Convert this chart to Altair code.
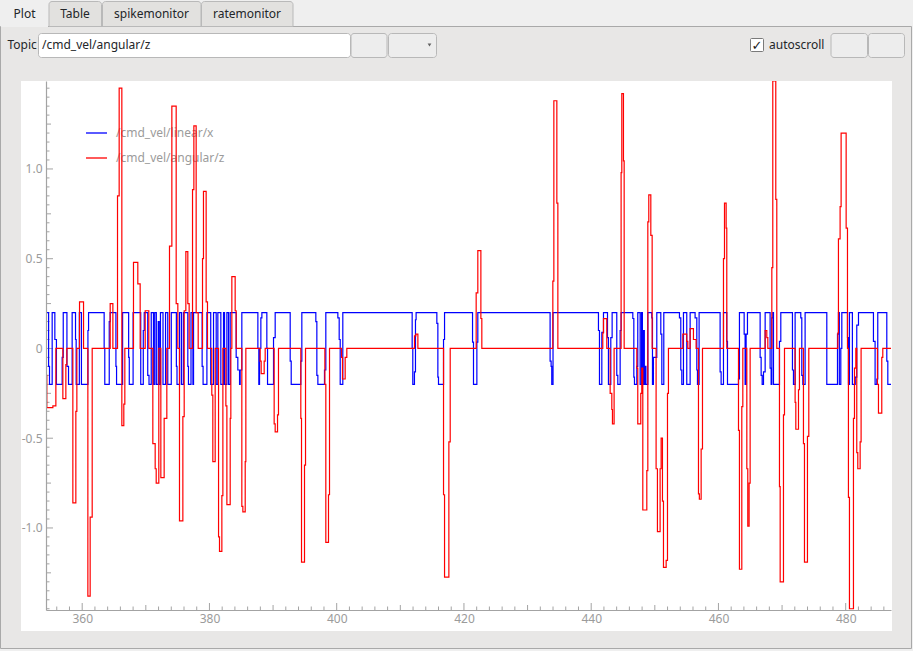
import altair as alt
import pandas as pd

# ---------------- data ----------------
red_t = [354.31, 354.44, 355.39, 355.86, 356.96, 357.43, 357.59, 358.53, 359.0, 359.16,
         359.58, 360.21, 360.89, 361.25, 361.57, 364.4, 364.82, 365.55, 365.81, 366.23,
         366.54, 366.7, 368.06, 368.74, 369.11, 369.9, 370.47, 371.1, 371.47, 371.63,
         372.04, 372.36, 372.88, 373.3, 373.72, 374.09, 374.77, 375.03, 375.29, 375.82,
         376.03, 376.29, 376.6, 376.81, 377.34, 377.55, 377.91, 378.23, 378.91, 379.06,
         379.48, 379.69, 380.37, 380.53, 380.9, 381.43, 381.58, 381.95, 382.11, 382.58,
         382.74, 383.26, 383.36, 383.52, 384.04, 384.2, 385.09, 385.25, 385.62, 385.72,
         387.97, 388.13, 388.6, 388.76, 390.17, 390.33, 390.7, 390.85, 394.36, 394.47,
         394.94, 395.1, 398.14, 398.29, 398.71, 398.87, 400.76, 400.91, 401.33, 401.59,
         412.23, 412.44, 412.76, 416.79, 416.95, 417.63, 417.84, 421.92, 422.18, 422.66,
         422.81, 433.97, 434.13, 434.6, 434.76, 441.82, 441.93, 442.45, 442.98, 443.24,
         443.34, 443.6, 444.7, 444.81, 445.07, 445.18, 447.17, 447.32, 447.79, 447.95,
         448.11, 448.74, 448.9, 449.05, 449.37, 449.58, 450.2, 450.41, 450.83, 450.99,
         451.2, 451.36, 451.78, 451.99, 452.14, 454.4, 455.02, 455.18, 455.55, 456.07,
         456.49, 456.86, 457.0, 457.28, 457.49, 460.79, 460.95, 461.21, 461.31, 463.15,
         463.3, 463.67, 463.83, 464.46, 464.61, 464.82, 464.98, 467.34, 467.6, 467.76,
         468.39, 468.54, 469.01, 469.17, 469.59, 469.7, 470.22, 470.38, 472.05, 472.16,
         472.58, 472.73, 473.36, 473.52, 473.99, 474.2, 478.76, 478.86, 479.12, 479.28,
         480.07, 480.28, 480.43, 480.59, 481.22, 481.38, 481.59, 481.74, 481.9, 482.27,
         482.42, 484.99, 485.15, 485.67, 485.83, 487.12]
red_v = [-0.15, -0.33, -0.32, 0, -0.28, -0.09, 0, -0.86, -0.35, 0,
         0.26, 0, -1.38, -0.94, 0, 0.25, 0, 0.85, 1.45, -0.43,
         -0.31, 0, 0.48, 0.36, 0, 0.21, 0, -0.53, -0.67, -0.75,
         0, -0.72, -0.39, 0, 0.57, 1.35, 0.25, 0, -0.96, -0.38,
         0.21, 0.54, 0.25, 0, 0.885, 1.24, 0.2, 0, 0.5, 0.875,
         0.26, 0, -0.26, -0.63, 0, -1.05, -1.13, -0.82, 0, -0.32,
         -0.87, -0.39, 0, 0.4, 0.21, 0, -0.88, -0.91, -0.63, 0,
         -0.07, -0.14, -0.07, 0, -0.42, -0.465, -0.37, 0, -0.39, -1.19,
         -0.65, 0, -0.2, -1.08, -0.815, 0, -0.05, -0.17, -0.05, 0,
         0.07, 0.08, 0, -0.815, -1.274, -0.52, 0, 0.31, 0.545, 0.167,
         0, 0.375, 1.38, 0.81, 0, 0.086, 0.166, 0, -0.25, -0.34,
         -0.42, 0, 0.98, 1.42, 1.045, 0, -0.11, -0.42, -0.25, -0.11,
         -0.9, -0.68, 0.705, 0.856, 0.63, 0, -0.67, -1.02, -0.67, -0.5,
         -0.85, -1.22, -1.18, -0.25, 0, 0.08, 0.04, 0, 0.11, 0.05,
         0, -0.81, -0.84, -0.56, 0, 0.5, 0.81, 0.67, 0, -0.456,
         -1.23, -0.324, 0, -0.67, -0.99, -0.75, 0, 0.1, 0.06, 0,
         0.45, 1.49, 0.83, 0, -0.77, -1.3, -0.37, 0, -0.3, -0.45,
         -0.23, 0, -0.53, -1.19, -0.49, 0, 0.086, 0.61, 0.79, 1.2,
         0.67, 0, -0.83, -1.45, -0.39, -0.11, 0, -0.58, -0.67, -0.52,
         0, -0.2, -0.36, -0.05, 0, 0]

blue_t = [354.31, 354.72, 354.86, 355.28, 355.7, 355.95, 356.85, 357.02, 357.6, 357.85,
          358.42, 358.95, 359.05, 359.55, 359.88, 360.9, 361.0, 363.45, 363.55, 364.25,
          364.4, 365.3, 365.4, 366.35, 367.3, 367.4, 368.0, 369.2, 369.6, 369.75,
          370.3, 370.5, 370.85, 371.2, 371.4, 371.65, 371.95, 372.1, 372.3, 372.7,
          373.1, 373.45, 374.0, 374.8, 374.9, 375.3, 375.6, 375.9, 376.6, 376.7,
          377.1, 377.4, 377.5, 378.85, 379.0, 379.6, 380.2, 380.64, 381.06, 381.32,
          381.79, 382.21, 382.37, 382.74, 383.0, 383.26, 384.2, 384.46, 384.73, 384.83,
          385.09, 387.61, 387.76, 387.87, 388.08, 388.24, 389.02, 389.13, 390.07, 390.33,
          392.69, 392.85, 394.36, 394.52, 396.72, 396.88, 397.04, 398.08, 398.29, 400.18,
          400.39, 400.55, 400.96, 411.86, 411.96, 412.22, 412.38, 412.48, 415.74, 415.9,
          416.0, 416.79, 416.95, 421.35, 421.5, 422.03, 422.18, 433.54, 433.7, 433.8,
          434.0, 441.14, 441.3, 441.67, 441.93, 442.56, 442.71, 443.08, 443.29, 444.02,
          444.18, 444.55, 444.7, 446.54, 446.7, 446.8, 447.17, 447.32, 447.69, 447.9,
          448.05, 448.2, 448.35, 448.5, 448.6, 448.9, 449.52, 449.63, 449.78, 450.31,
          450.94, 451.1, 451.41, 453.87, 454.08, 454.24, 454.5, 455.02, 455.55, 456.33,
          456.6, 456.7, 456.96, 460.26, 460.42, 460.79, 461.31, 461.42, 463.15, 463.3,
          464.04, 464.19, 464.35, 464.56, 466.55, 466.71, 466.87, 467.08, 467.34, 468.12,
          468.28, 468.39, 468.54, 468.65, 469.59, 469.8, 471.63, 471.79, 472.05, 472.94,
          473.1, 473.26, 473.62, 477.03, 478.71, 478.86, 479.0, 479.23, 479.39, 480.28,
          480.43, 480.59, 481.05, 481.5, 481.74, 482.01, 484.36, 484.62, 484.89, 485.04,
          486.46, 486.62, 487.12]
blue_v = [0.2, -0.1, -0.2, 0.2, 0.05, -0.2, -0.05, 0.2, -0.1, -0.2,
          0.2, 0.05, -0.2, 0.2, -0.2, 0.1, 0.2, 0.0, -0.2, 0.15,
          0.2, -0.1, -0.2, 0.2, -0.05, -0.2, 0.2, -0.2, 0.1, 0.2,
          -0.15, -0.2, 0.2, -0.2, 0.2, -0.2, 0.15, -0.2, 0.2, -0.2,
          0.2, -0.2, 0.2, -0.1, -0.2, 0.2, -0.2, 0.2, -0.1, -0.2,
          0.2, -0.2, 0.2, -0.1, -0.2, 0.2, -0.2, 0.2, -0.2, 0.2,
          -0.2, 0.2, -0.2, 0.2, -0.2, 0.2, -0.05, -0.12, -0.2, -0.12,
          0.2, 0.0, -0.2, 0.0, 0.17, 0.2, 0.0, -0.2, 0.06, 0.2,
          -0.07, -0.2, -0.07, 0.2, 0.15, -0.15, -0.2, -0.12, 0.2, 0.17,
          0.05, -0.2, 0.2, 0.0, -0.2, -0.13, 0.16, 0.2, 0.14, -0.16,
          -0.2, 0.05, 0.2, 0.035, -0.2, 0.035, 0.2, -0.07, -0.1, -0.2,
          0.2, 0.1, -0.2, 0.09, 0.2, 0.06, -0.2, 0.06, 0.2, -0.15,
          -0.2, 0.1, 0.2, 0.167, -0.16, -0.2, -0.1, 0.2, -0.2, 0.2,
          -0.2, 0.1, -0.2, -0.1, -0.2, 0.2, 0.17, -0.2, -0.05, 0.2,
          0.08, -0.2, 0.2, 0.17, -0.12, -0.2, 0.2, -0.2, 0.2, 0.17,
          -0.12, -0.2, 0.2, -0.13, -0.2, 0.2, 0.04, -0.2, -0.17, 0.2,
          0.08, -0.2, 0.08, 0.2, -0.05, -0.15, -0.2, -0.13, 0.2, -0.11,
          -0.2, 0.17, 0.2, -0.2, 0.04, 0.2, -0.12, -0.2, 0.2, 0.17,
          -0.15, -0.2, 0.2, -0.2, 0.08, 0.2, -0.2, 0.0, 0.2, 0.06,
          -0.2, 0.2, -0.2, -0.16, 0.13, 0.2, 0.04, -0.2, -0.17, 0.2,
          -0.07, -0.2, -0.2]

series_names = ["/cmd_vel/linear/x", "/cmd_vel/angular/z"]
series_colors = ["#0000ff", "#ff0000"]

x_major = [360, 380, 400, 420, 440, 460, 480]
x_medium = [370, 390, 410, 430, 450, 470]
x_minor = [v for v in range(356, 488, 2) if v % 10 != 0]
y_major = [-1.0, -0.5, 0.0, 0.5, 1.0]
y_medium = [-1.25, -0.75, -0.25, 0.25, 0.75, 1.25]
y_minor = [k / 20 for k in range(-29, 30) if k % 5 != 0]

tab_names = ["Plot", "Table", "spikemonitor", "ratemonitor"]
topic_label = "Topic"
topic_text = "/cmd_vel/angular/z"
autoscroll_label = "autoscroll"

# ---------------- layout ----------------
OX, OY = 46, 81          # plot-area origin inside the 913x651 page
W, H = 845, 529          # plot-area size
FONT = "Noto Sans"
GREY = "#9b9b9b"
AXC = "#a3a3a3"

one = pd.DataFrame({"k": [0]})


def box(x1, y1, x2, y2, fill, stroke=None, r=0, top_only=False):
    kw = dict(fill=fill)
    if stroke:
        kw.update(stroke=stroke, strokeWidth=1)
    if r and top_only:
        kw.update(cornerRadiusTopLeft=r, cornerRadiusTopRight=r)
    elif r:
        kw.update(cornerRadius=r)
    return alt.Chart(one).mark_rect(**kw).encode(
        x=alt.value(x1 - OX), x2=alt.value(x2 - OX),
        y=alt.value(y1 - OY), y2=alt.value(y2 - OY))


def label(x, y, s, color="#232629", align="left", size=12, font=FONT, weight="normal"):
    return alt.Chart(one).mark_text(
        align=align, baseline="middle", fontSize=size, font=font, color=color, fontWeight=weight
    ).encode(x=alt.value(x - OX), y=alt.value(y - OY), text=alt.value(s))


chrome = [
    box(0.5, 26.5, 911.5, 648.5, "#e8e7e6", "#a9a9a9"),
    box(1, 0, 48, 27, "#efefef"),
    box(49, 1.5, 101.5, 26.5, "#e2e1df", "#b9b9b9", 3, True),
    box(102.5, 1.5, 201, 26.5, "#e2e1df", "#b9b9b9", 3, True),
    box(201.5, 1.5, 293, 26.5, "#e2e1df", "#b9b9b9", 3, True),
    label(24.5, 14, tab_names[0], align="center"),
    label(75, 14, tab_names[1], align="center"),
    label(151.5, 14, tab_names[2], align="center"),
    label(247, 14, tab_names[3], align="center"),
    label(7.5, 45, topic_label),
    box(38.5, 33.5, 350.5, 57.5, "#ffffff", "#b8b8b8", 3),
    label(42, 45, topic_text),
    box(351, 33.5, 387, 57.5, "#ededed", "#b8b8b8", 3),
    box(388.5, 33.5, 436.5, 57.5, "#ededed", "#b8b8b8", 3),
    alt.Chart(one).mark_point(shape="triangle-down", filled=True, size=14, color="#606060", opacity=1)
    .encode(x=alt.value(429.5 - OX), y=alt.value(45 - OY)),
    box(750.5, 38.5, 763.5, 51.5, "#ffffff", "#7a7a7a", 1),
    label(757, 45.5, "\u2713", color="#1a1a1a", align="center", size=13, font="DejaVu Sans", weight="bold"),
    label(769, 45, autoscroll_label),
    box(831, 33.5, 867.5, 57.5, "#ededed", "#b8b8b8", 3),
    box(868.5, 33.5, 904.5, 57.5, "#ededed", "#b8b8b8", 3),
    box(21, 81, 892, 631, "#ffffff"),
]

# legend (drawn inside the plot, under the curves)
legend = []
for i, (nm, col) in enumerate(zip(series_names, series_colors)):
    yy = 133 + 25 * i
    legend.append(alt.Chart(one).mark_rule(color=col, strokeWidth=1.3).encode(
        x=alt.value(86 - OX), x2=alt.value(107 - OX), y=alt.value(yy - OY)))
    legend.append(label(116, yy, nm, color=GREY))

xs = alt.Scale(domain=[354.31, 487.12], nice=False, zero=False)
ys = alt.Scale(domain=[-1.457, 1.49], nice=False, zero=False)

x_axis = alt.Axis(values=x_major, ticks=False, tickSize=0, labelPadding=3, labelColor=GREY,
                  labelFont=FONT, labelFontSize=12, domainColor=AXC, domainWidth=1.2,
                  grid=False, title=None, labelFlush=False, labelOverlap=False, zindex=1)
y_axis = alt.Axis(values=y_major, ticks=False, tickSize=0, labelPadding=4, labelColor=GREY,
                  labelFont=FONT, labelFontSize=12, domainColor=AXC, domainWidth=1.2,
                  grid=False, title=None, labelFlush=False, labelOverlap=False, zindex=1,
                  labelExpr="datum.value == 0 ? '0' : (datum.value < 0 ? '-' : '') + format(abs(datum.value), '.1f')")

ticks = []
for vals, ln in [(x_minor, 3.5), (x_medium, 5), (x_major, 7)]:
    ticks.append(alt.Chart(pd.DataFrame({"t": vals})).mark_rule(color=AXC, strokeWidth=1).encode(
        x=alt.X("t:Q", scale=xs, axis=x_axis), y=alt.value(H - ln), y2=alt.value(H)))
for vals, ln in [(y_minor, 3.5), (y_medium, 5), (y_major, 7)]:
    ticks.append(alt.Chart(pd.DataFrame({"v": vals})).mark_rule(color=AXC, strokeWidth=1).encode(
        y=alt.Y("v:Q", scale=ys, axis=y_axis), x=alt.value(0), x2=alt.value(ln)))

blue_df = pd.DataFrame({"t": blue_t, "v": blue_v})
red_df = pd.DataFrame({"t": red_t, "v": red_v})

blue_line = alt.Chart(blue_df).mark_line(
    interpolate="step-after", color=series_colors[0], strokeWidth=1.2, clip=True
).encode(x=alt.X("t:Q", scale=xs, axis=x_axis), y=alt.Y("v:Q", scale=ys, axis=y_axis))
red_line = alt.Chart(red_df).mark_line(
    interpolate="step-after", color=series_colors[1], strokeWidth=1.2, clip=True
).encode(x=alt.X("t:Q", scale=xs, axis=x_axis), y=alt.Y("v:Q", scale=ys, axis=y_axis))

chart = alt.layer(*chrome, *legend, *ticks, blue_line, red_line).properties(
    width=W, height=H,
    padding={"left": OX, "top": OY, "right": 913 - OX - W, "bottom": 651 - OY - H},
    autosize=alt.AutoSizeParams(type="none"),
    background="#efefef",
).configure_view(strokeWidth=0)

chart.save("out.html", embed_options={"renderer": "svg", "actions": False})
